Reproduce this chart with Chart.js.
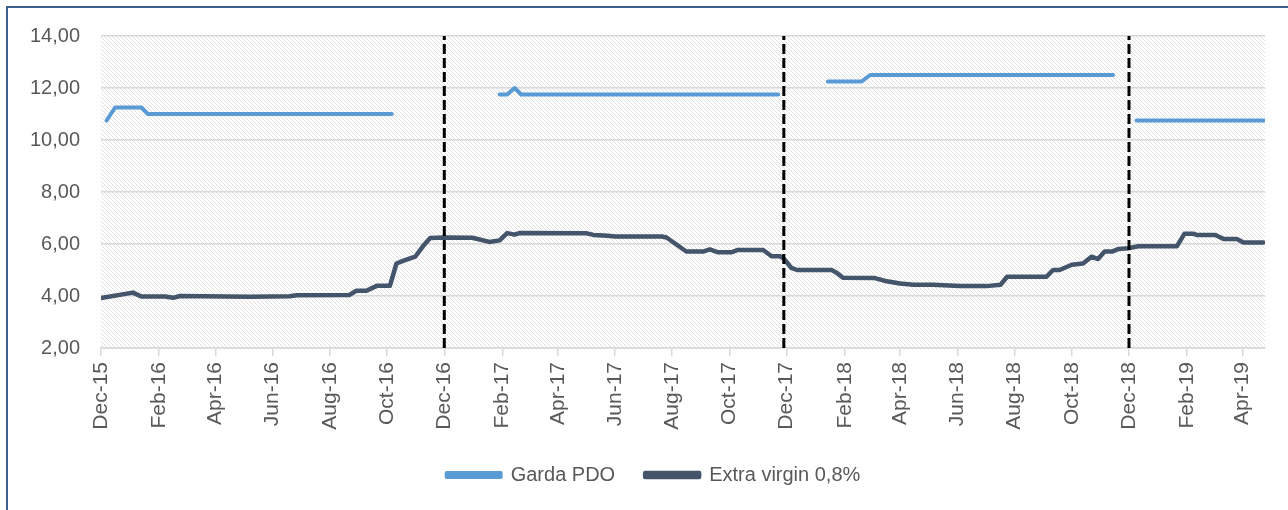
<!DOCTYPE html>
<html>
<head>
<meta charset="utf-8">
<script src="https://cdn.jsdelivr.net/npm/chart.js@4.4.1/dist/chart.umd.min.js"></script>
<style>
  html, body { margin: 0; padding: 0; background: #fff; }
  #wrap { position: relative; width: 1288px; height: 510px; overflow: hidden; }
  #frame { position: absolute; left: 6px; top: 6px; width: 1300px; height: 520px;
           border: 2px solid #3a5f8a; box-sizing: border-box; pointer-events: none; }
  canvas { position: absolute; left: 0; top: 0; }
</style>
</head>
<body>
<div id="wrap">
  <canvas id="grafik" width="1288" height="510"></canvas>
  <div id="frame"></div>
</div>
<script>
// tick labels on the x axis (every two months)
var tickLabels = ['Dec-15','Feb-16','Apr-16','Jun-16','Aug-16','Oct-16','Dec-16','Feb-17','Apr-17','Jun-17',
                  'Aug-17','Oct-17','Dec-17','Feb-18','Apr-18','Jun-18','Aug-18','Oct-18','Dec-18','Feb-19','Apr-19'];
var tickDates = ['2015-12-01','2016-02-01','2016-04-01','2016-06-01','2016-08-01','2016-10-01','2016-12-01',
                 '2017-02-01','2017-04-01','2017-06-01','2017-08-01','2017-10-01','2017-12-01','2018-02-01',
                 '2018-04-01','2018-06-01','2018-08-01','2018-10-01','2018-12-01','2019-02-01','2019-04-01'];

// Garda PDO (null = no price)
var gardaDates = ['2015-12-07','2015-12-16','2016-01-13','2016-01-20','2016-10-06','2016-12-15',
                  '2017-01-29','2017-02-06','2017-02-14','2017-02-21','2017-11-22','2017-12-20',
                  '2018-01-14','2018-02-19','2018-02-28','2018-11-14','2018-11-30',
                  '2018-12-09','2019-04-24'];
var gardaValues = [10.75, 11.25, 11.25, 11.00, 11.00, null,
                   11.75, 11.75, 12.00, 11.75, 11.75, null,
                   12.25, 12.25, 12.50, 12.50, null,
                   10.75, 10.75];

// Extra virgin 0,8%
var extraDates = ['2015-12-01','2016-01-04','2016-01-13','2016-02-07','2016-02-16','2016-02-23','2016-05-08',
                  '2016-06-19','2016-06-27','2016-08-22','2016-08-29','2016-09-09','2016-09-20','2016-10-04',
                  '2016-10-11','2016-10-18','2016-10-31','2016-11-08','2016-11-16','2016-11-30','2016-12-31',
                  '2017-01-18','2017-01-29','2017-02-06','2017-02-14','2017-02-19','2017-05-02','2017-05-09',
                  '2017-05-24','2017-06-01','2017-07-21','2017-07-26','2017-08-16','2017-09-03','2017-09-10',
                  '2017-09-19','2017-10-03','2017-10-10','2017-11-06','2017-11-15','2017-11-24','2017-11-28',
                  '2017-12-06','2017-12-12','2018-01-18','2018-01-23','2018-01-30','2018-03-05','2018-03-16',
                  '2018-04-01','2018-04-15','2018-05-06','2018-06-04','2018-07-02','2018-07-17','2018-07-24',
                  '2018-09-04','2018-09-11','2018-09-18','2018-10-01','2018-10-13','2018-10-22','2018-10-29',
                  '2018-11-05','2018-11-13','2018-11-20','2018-11-30','2018-12-11','2019-01-21','2019-01-29',
                  '2019-02-08','2019-02-11','2019-03-03','2019-03-12','2019-03-26','2019-04-02','2019-04-23'];
var extraValues = [3.92, 4.13, 3.98, 3.98, 3.93, 4.00, 3.97,
                   3.99, 4.03, 4.04, 4.20, 4.20, 4.39, 4.39,
                   5.25, 5.35, 5.51, 5.90, 6.23, 6.25, 6.24,
                   6.08, 6.14, 6.42, 6.36, 6.42, 6.41, 6.35,
                   6.32, 6.29, 6.29, 6.25, 5.71, 5.71, 5.79,
                   5.68, 5.68, 5.77, 5.77, 5.53, 5.53, 5.44,
                   5.08, 5.00, 5.00, 4.90, 4.70, 4.69, 4.58,
                   4.48, 4.43, 4.43, 4.38, 4.38, 4.43, 4.74,
                   4.74, 5.00, 5.00, 5.20, 5.25, 5.51, 5.42,
                   5.71, 5.71, 5.81, 5.84, 5.91, 5.91, 6.39,
                   6.39, 6.35, 6.35, 6.19, 6.19, 6.06, 6.06];

// dashed separators between campaigns
var breakDates = ['2016-12-01','2017-11-28','2018-12-01'];

var yTicks = [2, 4, 6, 8, 10, 12, 14];

function gun(s) {
    var p = s.split('-');
    return (Date.UTC(+p[0], +p[1] - 1, +p[2]) - Date.UTC(2015, 11, 1)) / 86400000;
}
function noktalar(dates, values) {
    return dates.map(function (d, i) { return { x: gun(d), y: values[i] }; });
}

// hatched plot background
var desen = document.createElement('canvas');
desen.width = 8; desen.height = 8;
var dc = desen.getContext('2d');
dc.fillStyle = '#ffffff';
dc.fillRect(0, 0, 8, 8);
dc.strokeStyle = '#e1e1e1';
dc.lineWidth = 1;
for (var k = -8; k <= 8; k += 4) {
    dc.beginPath();
    dc.moveTo(k - 1, -1);
    dc.lineTo(k + 9, 9);
    dc.stroke();
}
var taramaPlugin = {
    id: 'tarama',
    afterLayout: function (chart) {
        // legend sits a little right of centre in the original
        chart.legend.left += 21;
        chart.legend.right += 21;
    },
    beforeDraw: function (chart) {
        var a = chart.chartArea, ctx = chart.ctx;
        ctx.save();
        ctx.fillStyle = ctx.createPattern(desen, 'repeat');
        ctx.fillRect(a.left, a.top, a.right - a.left, a.bottom - a.top);
        ctx.restore();
    }
};

var ayirici = breakDates.map(function (d) {
    return {
        label: 'sep',
        data: [{ x: gun(d), y: 2 }, { x: gun(d), y: 14 }],
        borderColor: '#000000',
        borderWidth: 3,
        borderDash: [10, 4],
        pointRadius: 0
    };
});

var etiketRenk = '#595959';

var chart = new Chart('grafik', {
    type: 'line',
    data: {
        datasets: ayirici.concat([{
            label: 'Garda PDO',
            data: noktalar(gardaDates, gardaValues),
            borderColor: '#5b9bd5',
            backgroundColor: '#5b9bd5',
            borderWidth: 4,
            pointRadius: 0,
            spanGaps: false,
            borderJoinStyle: 'round',
            borderCapStyle: 'round'
        }, {
            label: 'Extra virgin 0,8%',
            data: noktalar(extraDates, extraValues),
            borderColor: '#44546a',
            backgroundColor: '#44546a',
            borderWidth: 4.5,
            pointRadius: 0,
            borderJoinStyle: 'round',
            borderCapStyle: 'round'
        }])
    },
    options: {
        responsive: false,
        animation: false,
        layout: { padding: { top: 36, right: 23, left: 0, bottom: 15 } },
        plugins: {
            tooltip: { enabled: false },
            legend: {
                position: 'bottom',
                labels: {
                    filter: function (item) { return item.text !== 'sep'; },
                    boxWidth: 54,
                    boxHeight: 4,
                    padding: 30,
                    color: etiketRenk,
                    font: { family: 'Liberation Sans', size: 20 }
                }
            }
        },
        scales: {
            x: {
                type: 'linear',
                min: 0,
                max: gun('2019-04-25'),
                afterBuildTicks: function (scale) {
                    scale.ticks = tickDates.map(function (d) { return { value: gun(d) }; });
                },
                afterFit: function (scale) { scale.height = 87; },
                ticks: {
                    autoSkip: false,
                    maxRotation: 90,
                    minRotation: 90,
                    padding: 6,
                    color: etiketRenk,
                    font: { family: 'Liberation Sans', size: 21 },
                    callback: function (v, i) { return tickLabels[i]; }
                },
                grid: { drawOnChartArea: false, drawTicks: true, tickLength: 8, color: '#d9d9d9', lineWidth: 1.5 },
                border: { display: true, color: '#d9d9d9', width: 1.5 }
            },
            y: {
                min: 2,
                max: 14,
                afterBuildTicks: function (scale) {
                    scale.ticks = yTicks.map(function (v) { return { value: v }; });
                },
                afterFit: function (scale) { scale.width = 101; },
                ticks: {
                    padding: 21,
                    color: etiketRenk,
                    font: { family: 'Liberation Sans', size: 20 },
                    callback: function (v) { return v.toFixed(2).replace('.', ','); }
                },
                grid: { drawTicks: false, color: '#d8d8d8', lineWidth: 1.5 },
                border: { display: false }
            }
        }
    },
    plugins: [taramaPlugin]
});
</script>
</body>
</html>
